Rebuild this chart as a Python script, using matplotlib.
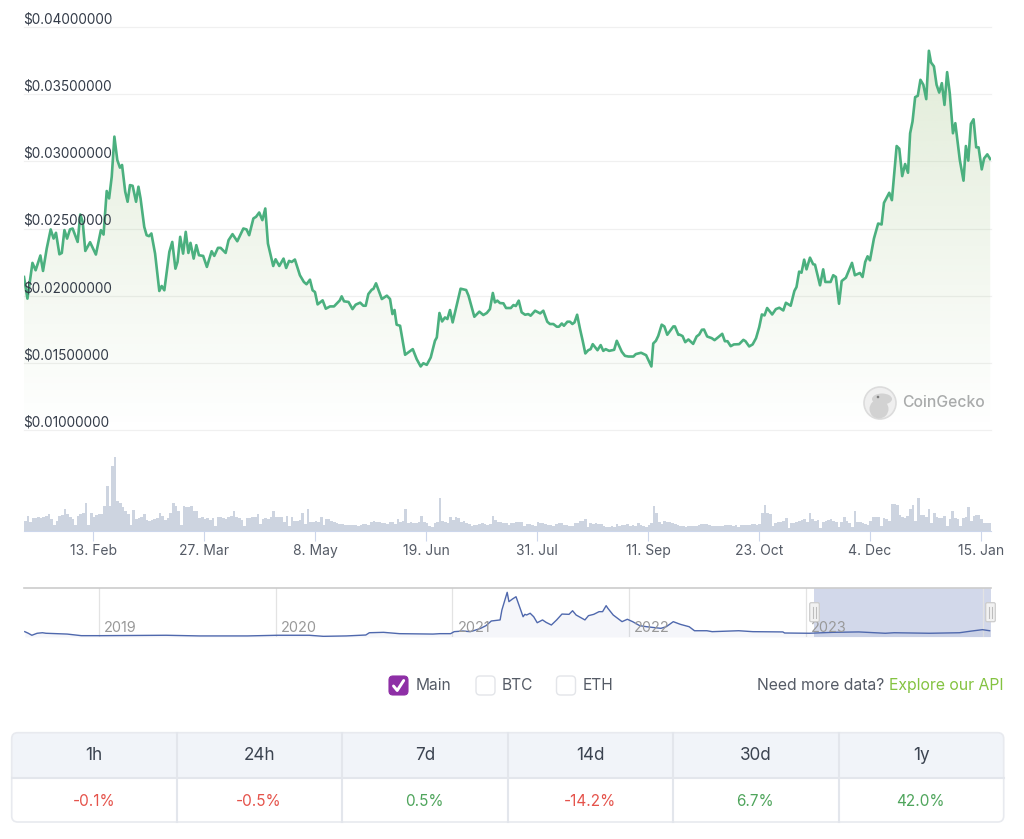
import numpy as np
import matplotlib
matplotlib.use('Agg')
import matplotlib.pyplot as plt
from matplotlib.patches import FancyBboxPatch, Polygon, Circle, Ellipse, Rectangle

plt.rcParams['font.family'] = ['Inter', 'DejaVu Sans']

W, H = 1024, 839

# Price line: days since 18 Jan, price in thousandths of a dollar
days = [
    0, 1.3, 3.2, 4.4, 6.2, 7.2, 8.6, 10.1, 11.2, 12.1,
    13.4, 14.3, 15.3, 16.3, 17.4, 18.4, 20.3, 21.3, 22.2, 23.2,
    25, 27.2, 29.1, 30.1, 31.3, 32.2, 33.2, 34.2, 35.3, 36.3,
    37.1, 38.3, 39.2, 40.1, 41.1, 42.4, 43.3, 44.1, 45.5, 46.4,
    47.3, 48.2, 49.6, 51.2, 52.1, 53.1, 55, 56.1, 57.3, 58.1,
    59.1, 60.2, 61.2, 62.2, 63, 64.2, 65.2, 66.2, 67.8, 69.2,
    71, 72, 73.4, 74.4, 76.3, 77.4, 78.9, 80.7, 83, 84.2,
    85.2, 86.8, 87.8, 89, 90.2, 91.3, 92.3, 94.3, 95.2, 96.6,
    98.2, 99.2, 100.3, 101.3, 102.5, 104.4, 105.9, 106.9, 108.2, 109.2,
    110.1, 111.1, 113, 114.2, 115.8, 117.3, 119.5,
    120.2, 121.1, 122.8, 124.3, 125.5, 127.2, 128.4, 129.3, 130.3, 131.6,
    132.2, 133.2, 135.4, 137.3, 138.5, 139.4, 140.2, 141, 142.3, 144.2,
    147.1, 148.6, 150.1, 151.1, 152.4, 153.9, 155.5, 156.2, 157.2, 158.2,
    159.3, 160.2, 161.2, 162.2, 165.2, 167.3, 168.2, 170.4, 172.3, 173.8,
    175.1, 176.3, 177.4, 178.2, 179.1, 180.1, 181.4, 182.4, 184.2, 185.2,
    186.1, 187.2, 188.3, 189.6, 190.8, 191.7, 193.4, 195.3, 196.5, 198,
    199, 200.3, 201.6, 202.4, 203.5, 204.3, 205.6, 206.6, 207.5, 208.3,
    209.3, 210.4, 211.4, 212.4, 213.5, 214.4, 215.2, 217, 218.2, 219.2,
    220.1, 221.4, 223.3, 224.3, 226.2, 227.4, 228.7, 230.6, 231.5, 233.5,
    235.4, 236.1, 237.4, 238.1, 239.1, 240, 241.3, 242.3, 243.4, 245.7,
    246.3, 247.6,
    248.2, 249.2, 250.2, 251.4, 253.2, 254.5, 255.5, 256.5, 257.3, 258.5,
    260.2, 261.3, 262.7, 264.2, 265.2, 266.2, 267.4, 268.6, 270.6, 272.2,
    273, 274.4, 275.7, 277, 278.2, 279.2, 280.2, 281.2, 283.1, 284.5,
    285.8, 287.3, 288.3, 290.1, 291.5, 292.3, 293.3, 294.2, 295.2, 296.1,
    297.4, 298.6, 299.3, 301.2, 302.4, 303.2, 305.2, 306.2, 307.2, 308.4,
    309.4, 311, 313.3, 314.4, 316.3, 317.3, 318.3, 319.2, 320.1, 321.6,
    323.2, 324.5, 325.4, 327.4, 328.4, 330.2, 331.2, 332.3, 333.4, 334.5,
    335.3, 336.2, 337.2, 338.2, 339.2, 340.3, 341.4, 342.4, 343.2, 344.3,
    345.3, 346.3, 347.3, 348.3, 349.3, 350.3, 351.5, 352.4, 354.1, 355.5,
    356.4, 357.3, 358.3, 359.3, 360.3, 361.2, 362.4, 363.3, 364.5, 365.6,
]
price = [
    21.39, 19.78, 22.44, 21.89, 22.99, 21.84, 23.51, 24.93, 24.25, 24.68,
    23.08, 23.18, 24.88, 24.25, 24.93, 25.00, 24.0, 26.04, 25.50, 23.33,
    23.98, 23.06, 24.88, 24.55, 27.79, 27.24, 28.86, 31.84, 30.10, 29.53,
    29.73, 27.74, 26.99, 28.23, 28.18, 26.99, 28.11, 27.24, 25.12, 24.50,
    24.43, 24.63, 23.13, 20.35, 20.72, 20.40, 23.26, 24.0, 22.01, 22.51,
    24.38, 23.13, 24.75, 23.18, 23.93, 22.76, 23.76, 23.01, 22.96, 22.14,
    23.31, 22.96, 23.56, 23.56, 23.18, 24.13, 24.58, 24.05, 25.0, 24.93,
    24.50, 25.75, 25.87, 26.19, 25.62, 26.49, 23.88, 22.21, 22.71, 22.21,
    22.76, 22.06, 22.59, 22.51, 22.69, 21.52, 21.02, 20.85, 21.19, 20.40,
    20.27, 19.35, 19.65, 19.03, 19.20, 19.20, 19.65,
    19.95, 19.58, 19.53, 19.0, 19.33, 19.48, 19.25, 19.25, 20.12, 20.45,
    20.5, 20.92, 19.75, 20, 19.75, 18.63, 18.93, 17.84, 17.76, 15.6,
    16.02, 15.27, 14.73, 14.97, 14.85, 15.4, 16.64, 16.89, 18.71, 18.08,
    18.38, 18.26, 18.93, 18.01, 20.52, 20.42, 20, 18.43, 18.81, 18.56,
    18.71, 19.0, 20.2, 19.5, 19.63, 19.45, 19.43, 19.08, 19.08, 19.3,
    19.23, 19.63, 18.76, 18.58, 18.63, 18.51, 18.88, 18.68, 18.88, 18.06,
    17.89, 17.89, 17.69, 17.69, 17.93, 17.76, 18.06, 18.06, 17.89, 18.01,
    18.58, 17.51, 16.64, 15.7, 15.94, 16.02, 16.39, 15.94, 16.32, 15.89,
    16.02, 15.89, 15.97, 16.64, 15.82, 15.52, 15.47, 15.47, 15.65, 15.75,
    15.57, 15.27, 14.73, 16.44, 16.64, 17.01, 17.84, 17.71, 17.09, 17.71,
    17.71, 17.09,
    17.09, 16.99, 16.54, 16.74, 16.41, 16.96, 17.11, 17.46, 17.48, 16.96,
    16.84, 16.69, 16.91, 17.16, 16.61, 16.61, 16.24, 16.37, 16.39, 16.71,
    16.61, 16.22, 16.37, 16.84, 17.66, 18.6, 18.53, 19.08, 18.6, 19.0,
    19.1, 18.9, 19.47, 19.25, 20.35, 20.64, 21.79, 21.71, 22.68, 21.96,
    22.83, 22.34, 22.31, 20.77, 21.96, 21.02, 21.02, 21.52, 21.39, 19.4,
    21.09, 21.34, 22.44, 21.52, 21.69, 21.39, 22.51, 22.93, 22.63, 24.25,
    25.37, 25.3, 26.91, 27.66, 27.11, 31.14, 30.94, 28.9, 29.8, 29.15,
    32.09, 32.96, 34.78, 34.88, 36.07, 35.7, 34.63, 38.23, 37.36, 37.07,
    35.7, 35.12, 35.82, 34.2, 36.64, 35.07, 32.09, 32.84, 30.1, 28.56,
    31.14, 30.05, 32.79, 33.13, 31.04, 31.04, 29.4, 30.22, 30.52, 30.17,
]

price_ticks = [0.01, 0.015, 0.02, 0.025, 0.03, 0.035, 0.04]

# Daily volume, arbitrary units
volume = [
    10, 15, 9, 13, 13, 14, 13, 14, 15, 17,
    12, 6, 10, 15, 16, 22, 17, 14, 12, 6,
    15, 17, 18, 28, 6, 18, 14, 16, 17, 17,
    25, 45, 25, 65, 74, 30, 28, 24, 20, 17,
    6, 21, 12, 13, 14, 17, 11, 10, 11, 12,
    13, 18, 15, 11, 13, 18, 28, 25, 20, 6,
    25, 24, 24, 25, 20, 20, 13, 14, 12, 13,
    11, 13, 5, 14, 14, 13, 12, 14, 15, 20,
    14, 13, 11, 5, 13, 13, 14, 14, 17, 7,
    12, 13, 12, 14, 20, 14, 14, 14, 9, 15,
    5, 14, 10, 10, 11, 18, 7, 22, 9, 9,
    10, 9, 14, 6, 12, 12, 10, 9, 8, 7,
    7, 6, 6, 6, 6, 6, 5, 6, 7, 7,
    6, 9, 10, 9, 9, 8, 8, 7, 9, 9,
    7, 12, 9, 10, 22, 8, 9, 8, 8, 9,
    15, 9, 8, 5, 4, 8, 9, 33, 10, 9,
    8, 14, 11, 14, 13, 9, 10, 8, 7, 5,
    6, 6, 7, 8, 7, 6, 7, 15, 11, 9,
    9, 8, 8, 6, 8, 8, 9, 9, 9, 5,
    7, 7, 6, 5, 9, 8, 8, 7, 6, 6,
    5, 7, 8, 8, 6, 6, 5, 5, 8, 8,
    10, 10, 12, 4, 8, 7, 8, 7, 7, 5,
    4, 4, 5, 4, 7, 5, 6, 6, 7, 5,
    6, 5, 8, 6, 5, 4, 6, 8, 25, 18,
    9, 7, 10, 9, 9, 8, 7, 6, 5, 5,
    4, 5, 5, 5, 5, 6, 7, 7, 7, 6,
    5, 5, 5, 5, 5, 6, 6, 6, 5, 6,
    4, 6, 6, 6, 6, 7, 7, 6, 7, 18,
    26, 18, 17, 5, 8, 9, 9, 10, 13, 3,
    8, 8, 9, 10, 11, 12, 9, 18, 12, 10,
    11, 3, 9, 10, 11, 12, 10, 9, 4, 9,
    14, 10, 8, 4, 20, 9, 9, 8, 7, 6,
    10, 14, 14, 14, 5, 13, 12, 10, 27, 27,
    26, 16, 14, 13, 15, 22, 26, 10, 33, 16,
    16, 14, 22, 8, 18, 14, 13, 13, 15, 5,
    12, 20, 13, 12, 5, 13, 14, 24, 10, 15,
    16, 16, 12, 8, 8, 8,
]

date_ticks = [25.7, 67.7, 109.7, 151.7, 193.7, 235.7, 277.7, 319.7, 361.7]
date_labels = ['13. Feb', '27. Mar', '8. May', '19. Jun', '31. Jul',
               '11. Sep', '23. Oct', '4. Dec', '15. Jan']

# Navigator: decimal year, price in cents
nav_year = [
    2018.58, 2018.60, 2018.62, 2018.65, 2018.68, 2018.70, 2018.82, 2018.90, 2019.01, 2019.38,
    2019.57, 2019.84, 2020.01, 2020.19, 2020.27, 2020.40, 2020.51, 2020.53, 2020.61, 2020.70,
    2020.89, 2020.93, 2020.99, 2021.01, 2021.06, 2021.10, 2021.12, 2021.16, 2021.19, 2021.22,
    2021.27, 2021.28, 2021.31, 2021.32, 2021.34, 2021.36, 2021.38, 2021.40, 2021.41, 2021.42,
    2021.44, 2021.46, 2021.48, 2021.51, 2021.53, 2021.56, 2021.59, 2021.62, 2021.66, 2021.68,
    2021.70, 2021.75, 2021.77, 2021.80, 2021.83, 2021.85, 2021.87, 2021.88, 2021.91, 2021.96,
    2021.99, 2022.02, 2022.06, 2022.10, 2022.18, 2022.21, 2022.25, 2022.29, 2022.34, 2022.37,
    2022.44, 2022.47, 2022.62, 2022.70, 2022.87, 2022.88, 2023.02, 2023.15, 2023.30, 2023.45,
    2023.50, 2023.70, 2023.87, 2023.94, 2024.00, 2024.04,
]
nav_cents = [
    4.0, 2.8, 1.3, 2.8, 3.2, 2.8, 2.2, 1.0, 1.0, 1.3,
    0.8, 0.8, 1.3, 1.3, 0.5, 0.8, 1.5, 3.2, 3.5, 2.5,
    2.2, 2.5, 2.5, 4.0, 4.5, 4.0, 4.7, 6.5, 8.5, 12,
    12.8, 20.2, 33.5, 26.5, 28.5, 30.2, 22.7, 15.2, 17, 16.5,
    17.8, 15.2, 10.7, 12.8, 11, 9, 12.8, 17.2, 17, 19.7,
    16.5, 12.8, 16, 17, 19, 19, 23.5, 21.5, 16.5, 11.5,
    13.3, 11.5, 8.5, 7.7, 6.5, 7.7, 11.5, 9.5, 7.7, 4.7,
    4.7, 4, 4.7, 4, 3.8, 3, 2.8, 3.5, 3.8, 2.8,
    3.2, 2.8, 3.2, 4.5, 5.5, 4.7,
]
nav_years = [2019, 2020, 2021, 2022, 2023]

# Stats table
periods = ['1h', '24h', '7d', '14d', '30d', '1y']
changes = [-0.1, -0.5, 0.5, -14.2, 6.7, 42.0]


def px_axes(fig, left, top, right, bottom, **kw):
    return fig.add_axes([left / W, 1 - bottom / H, (right - left) / W, (bottom - top) / H], **kw)


days = np.array(days)
price = np.array(price) / 1000

fig = plt.figure(figsize=(W / 100, H / 100), dpi=100, facecolor='white')

# Main price chart
ax = px_axes(fig, 24, 27, 991, 430)
ax.set_xlim(0, 365.9)
ax.set_ylim(0.01, 0.04)
ax.axis('off')
for t in price_ticks:
    ax.axhline(t, color='#f0f0f0', lw=0.9, zorder=1, clip_on=False)

rows = 256
grad = np.ones((rows, 2, 4))
grad[..., 0] = 125 / 255
grad[..., 1] = 172 / 255
grad[..., 2] = 85 / 255
grad[..., 3] = np.linspace(0.24, 0.0, rows)[:, None]
im = ax.imshow(grad, extent=[0, 365.9, 0.01, 0.04], origin='upper', aspect='auto', zorder=2)
poly = Polygon(np.vstack([[days[0], 0.01], np.column_stack([days, price]), [days[-1], 0.01]]),
               closed=True, transform=ax.transData, fc='none', ec='none')
ax.add_patch(poly)
im.set_clip_path(poly)
ax.plot(days, price, color='#4bb07f', lw=1.9, zorder=3, solid_joinstyle='round')

# Volume
vol = px_axes(fig, 24, 450, 991, 531)
vol.bar(np.arange(len(volume)), volume, width=1.0, color='#cdd4e0', linewidth=0)
vol.set_xlim(-0.5, 365.5)
vol.set_ylim(0, 81)
for s in ['top', 'left', 'right']:
    vol.spines[s].set_visible(False)
vol.spines['bottom'].set_color('#ccd6eb')
vol.set_yticks([])
vol.set_xticks(date_ticks)
vol.set_xticklabels(date_labels, fontsize=10, color='#555b66')
vol.tick_params(axis='x', length=7.5, width=0.8, color='#ccd6eb', pad=2)

# Navigator
nav = px_axes(fig, 24, 588, 991, 637)
nav.set_xlim(2018.5756, 2024.048)
nav.set_ylim(0, 36.75)
nav.axis('off')
nav.axvspan(2023.046, 2024.048, color='#d2d8ea', lw=0, zorder=1)
for yr in nav_years + [2024]:
    nav.axvline(yr, color='#e3e3e3', lw=0.9, zorder=2)
nav.fill_between(nav_year, nav_cents, 0, color='#4f68ad', alpha=0.055, lw=0, zorder=3)
nav.plot(nav_year, nav_cents, color='#4f68ad', lw=1.0, zorder=4)
nav.axhline(36.75, color='#cccccc', lw=1.2, clip_on=False, zorder=2)
for yr in nav_years:
    nav.annotate(str(yr), (yr, 0), xytext=(5, 4.5), textcoords='offset pixels',
                 fontsize=10.4, color='#999999', zorder=5)

# Overlay in pixel coordinates for labels and page controls
ui = fig.add_axes([0, 0, 1, 1], facecolor='none')
ui.set_xlim(0, W)
ui.set_ylim(H, 0)
ui.axis('off')

for t in price_ticks:
    y = 430 - (t - 0.01) / 0.03 * 403
    ui.text(23.2, y - 7.5, '$%.8f' % t, fontsize=9.8, color='#333b48', ha='left', va='center')

# Watermark
ui.add_patch(Circle((880, 403), 16, fc='#efefef', ec='#dcdcdc', lw=1.2))
ui.add_patch(Ellipse((879, 409), 19, 19, fc='#d2d2d2', ec='none'))
ui.add_patch(Ellipse((882, 399), 20, 11, fc='#d2d2d2', ec='none'))
ui.add_patch(Circle((878, 397), 1.3, fc='#7d7d7d', ec='none'))
ui.text(902, 402.5, 'CoinGecko', fontsize=11.3, color='#a9abab', fontweight='medium', ha='left', va='center')

# Navigator handles
for hx in [809.7, 985.7]:
    ui.add_patch(FancyBboxPatch((hx, 602.7), 9.6, 19, boxstyle='round,pad=0,rounding_size=1.5',
                                fc='#f2f2f2', ec='#cccccc', lw=0.9))
    ui.plot([hx + 3.6, hx + 3.6], [607, 618], color='#bdbdbd', lw=0.8)
    ui.plot([hx + 6, hx + 6], [607, 618], color='#bdbdbd', lw=0.8)

# Checkboxes
ui.add_patch(FancyBboxPatch((389, 676), 19, 19, boxstyle='round,pad=0,rounding_size=4',
                            fc='#8e2fa6', ec='#8e2fa6', lw=0.8))
ui.plot([393.5, 397.2, 403.7], [686, 690.5, 680.5], color='white', lw=2.1,
        solid_capstyle='round', solid_joinstyle='round')
for bx in [476, 556.5]:
    ui.add_patch(FancyBboxPatch((bx, 676), 19, 19, boxstyle='round,pad=0,rounding_size=4',
                                fc='white', ec='#e3e5e9', lw=1.0))
for tx, label in [(416, 'Main'), (502, 'BTC'), (582.8, 'ETH')]:
    ui.text(tx, 686, label, fontsize=11.2, color='#555b66', ha='left', va='center')

ui.text(757, 685.5, 'Need more data?', fontsize=11.35, color='#555b66', ha='left', va='center')
ui.text(1003.5, 685.5, 'Explore our API', fontsize=11.35, color='#84c341', ha='right', va='center')

# Stats table
frame = FancyBboxPatch((11.7, 732.7), 992, 89.3, boxstyle='round,pad=0,rounding_size=6',
                       fc='white', ec='none')
ui.add_patch(frame)
head = Rectangle((11.7, 732.7), 992, 45.6, fc='#f1f4f9', ec='none')
ui.add_patch(head)
head.set_clip_path(frame)
ui.plot([11.7, 1003.7], [778.3, 778.3], color='#e3e6ec', lw=1.5)
col_edges = [11.7, 176.7, 342, 507.7, 672.7, 838.7, 1003.7]
for cx in col_edges[1:-1]:
    ui.plot([cx, cx], [732.7, 822], color='#e3e6ec', lw=1.5)
ui.add_patch(FancyBboxPatch((11.7, 732.7), 992, 89.3, boxstyle='round,pad=0,rounding_size=6',
                            fc='none', ec='#e8eaef', lw=1.2))
for i, (p, c) in enumerate(zip(periods, changes)):
    cx = (col_edges[i] + col_edges[i + 1]) / 2
    ui.text(cx, 755.7, p, fontsize=12.3, color='#3b4350', ha='center', va='center')
    ui.text(cx - 0.5, 801.7, '%.1f%%' % c, fontsize=11, ha='center', va='center',
            color='#e5534b' if c < 0 else '#4fa55c')

fig.savefig('out.png', dpi=100)
